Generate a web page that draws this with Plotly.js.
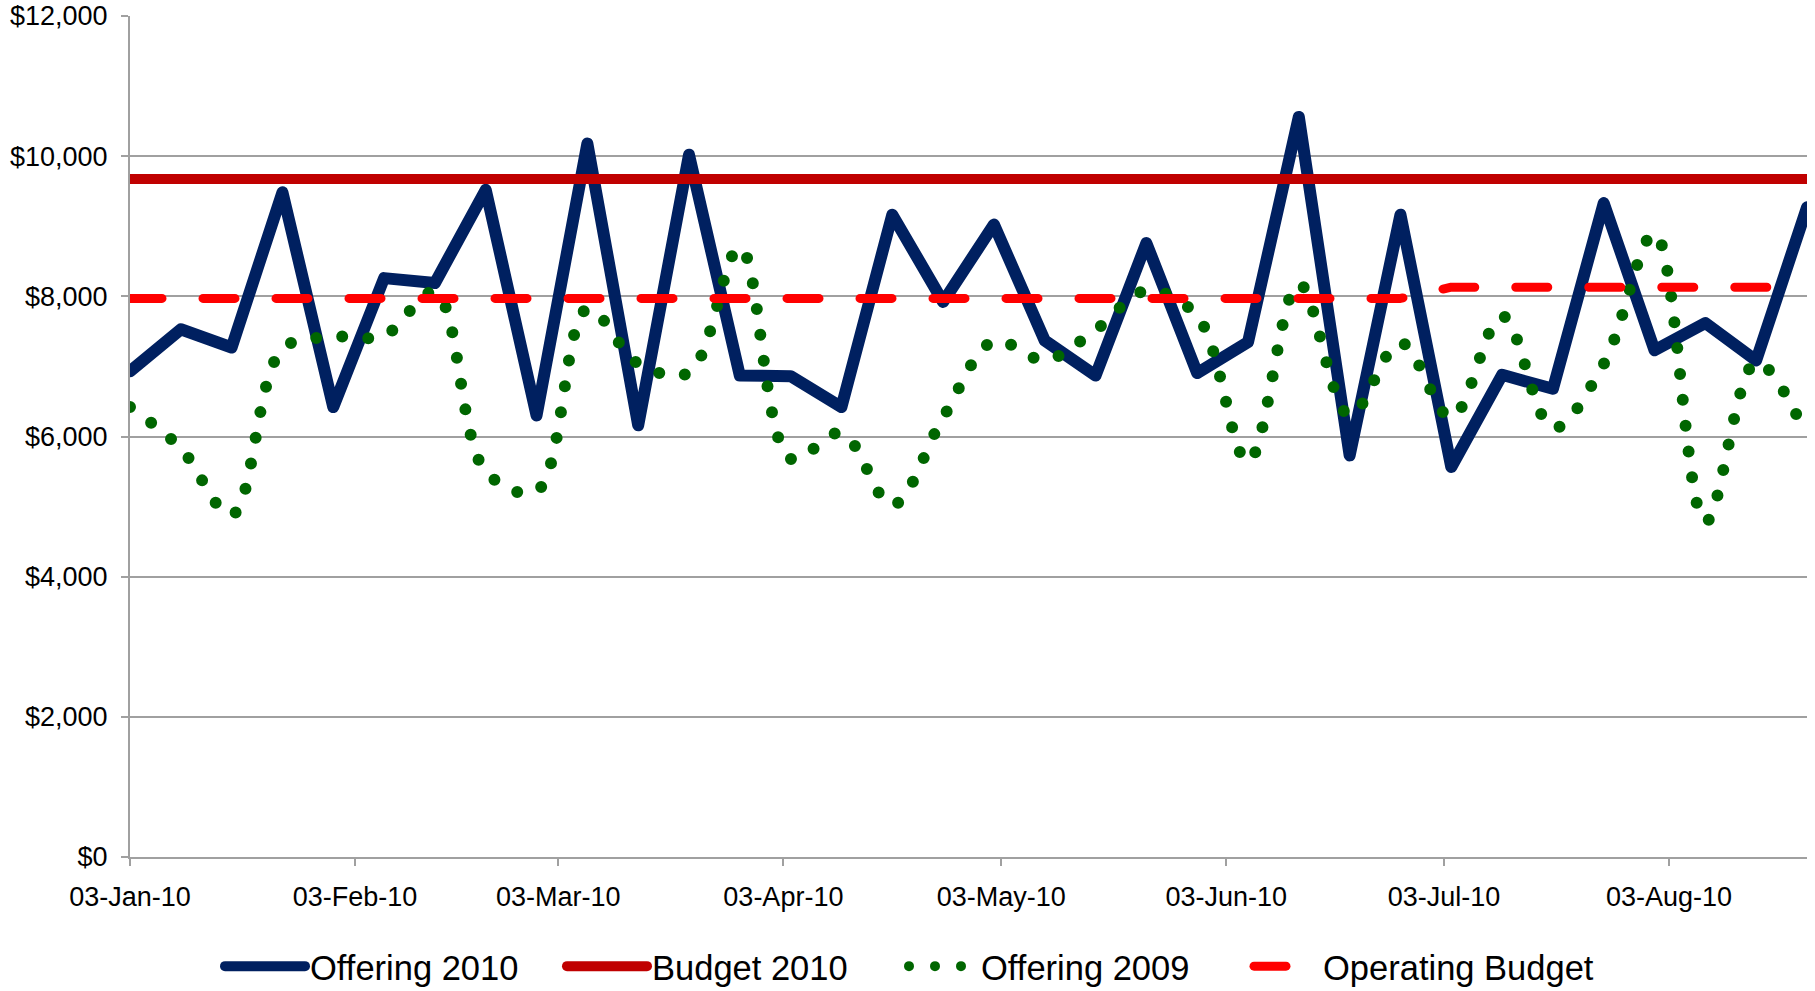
<!DOCTYPE html>
<html><head><meta charset="utf-8">
<script src="https://cdn.plot.ly/plotly-3.0.1.min.js"></script>
<style>html,body{margin:0;padding:0;background:#fff;}#chart{width:1815px;height:991px;}</style>
</head><body><div id="chart"></div>
<script>
const weeks = ['2010-01-03','2010-01-10','2010-01-17','2010-01-24','2010-01-31',
  '2010-02-07','2010-02-14','2010-02-21','2010-02-28',
  '2010-03-07','2010-03-14','2010-03-21','2010-03-28',
  '2010-04-04','2010-04-11','2010-04-18','2010-04-25',
  '2010-05-02','2010-05-09','2010-05-16','2010-05-23','2010-05-30',
  '2010-06-06','2010-06-13','2010-06-20','2010-06-27',
  '2010-07-04','2010-07-11','2010-07-18','2010-07-25',
  '2010-08-01','2010-08-08','2010-08-15','2010-08-22'];
const offering2010 = [6930,7530,7270,9485,6420,8260,8190,9520,6300,10180,6160,10020,6870,6860,6420,9165,7920,9025,7370,6870,8760,6905,7345,10560,5730,9165,5565,6880,6680,9330,7230,7620,7085,9270];
const budget2010 = [9675,9675,9675,9675,9675,9675,9675,9675,9675,9675,9675,9675,9675,9675,9675,9675,9675,9675,9675,9675,9675,9675,9675,9675,9675,9675,9675,9675,9675,9675,9675,9675,9675,9675];
const offering2009 = [6420,5830,4880,7250,7420,7440,8060,5500,5220,7820,7040,6910,8700,5680,6050,5020,6270,7360,7090,7520,8080,7720,5640,8180,6300,7340,6270,7720,6120,7035,8900,4780,7060,6000];
const operatingBudget = [7970,7970,7970,7970,7970,7970,7970,7970,7970,7970,7970,7970,7970,7970,7970,7970,7970,7970,7970,7970,7970,7970,7970,7970,7970,7970,8130,8130,8130,8130,8130,8130,8130,8130];
const seriesNames = ['Offering 2010','Budget 2010','Offering 2009','Operating Budget'];
const xTickVals = ['2010-01-03','2010-02-03','2010-03-03','2010-04-03','2010-05-03','2010-06-03','2010-07-03','2010-08-03'];
const xTickText = ['03-Jan-10','03-Feb-10','03-Mar-10','03-Apr-10','03-May-10','03-Jun-10','03-Jul-10','03-Aug-10'];
const yTickVals = [0,2000,4000,6000,8000,10000,12000];
const yTickText = ['$0','$2,000','$4,000','$6,000','$8,000','$10,000','$12,000'];

const FONT = 'Liberation Sans, Arial, sans-serif';
const AXIS_GREY = '#a0a0a0';

const traces = [
  {x: weeks, y: offering2010, name: seriesNames[0], mode: 'lines', legendwidth: 247,
   line: {color: '#002060', width: 12}},
  {x: weeks, y: budget2010, name: seriesNames[1], mode: 'lines', legendwidth: 234,
   line: {color: '#C00000', width: 10}},
  {x: weeks, y: offering2009, name: seriesNames[2], mode: 'lines', legendwidth: 247,
   line: {color: '#006600', width: 12, dash: '0px,26px', shape: 'spline', smoothing: 1}},
  {x: weeks, y: operatingBudget, name: seriesNames[3], mode: 'lines',
   line: {color: '#FF0000', width: 9, dash: '32px,41px'}}
];

const layout = {
  width: 1815, height: 991,
  margin: {l: 130, r: 8, t: 16, b: 134, pad: 0},
  paper_bgcolor: '#fff', plot_bgcolor: '#fff',
  font: {family: FONT, color: '#000'},
  showlegend: true,
  hovermode: false,
  xaxis: {
    type: 'date', range: ['2010-01-03', '2010-08-22'],
    tickmode: 'array', tickvals: xTickVals, ticktext: xTickText,
    ticks: 'outside', ticklen: 7, tickwidth: 2, tickcolor: AXIS_GREY,
    showline: true, linecolor: AXIS_GREY, linewidth: 2,
    showgrid: false, zeroline: false,
    tickfont: {family: FONT, size: 27, color: '#000'},
    ticklabelstandoff: 8
  },
  yaxis: {
    range: [0, 12000],
    tickmode: 'array', tickvals: yTickVals, ticktext: yTickText,
    ticks: 'outside', ticklen: 7, tickwidth: 2, tickcolor: AXIS_GREY,
    showline: true, linecolor: AXIS_GREY, linewidth: 2,
    showgrid: true, gridcolor: AXIS_GREY, gridwidth: 2,
    zeroline: false,
    tickfont: {family: FONT, size: 27, color: '#000'},
    ticklabelstandoff: 8
  },
  legend: {
    orientation: 'h', xref: 'container', yref: 'container',
    x: 220 / 1815, xanchor: 'left', y: 0.025, yanchor: 'middle',
    font: {family: FONT, size: 34.5, color: '#000'},
    itemwidth: 80, traceorder: 'normal', bgcolor: 'rgba(0,0,0,0)'
  }
};

// legend symbol dash phase (style only), per legend entry
const legendDashOffset = {'Offering 2009': 13, 'Operating Budget': 57};

function styleLines() {
  document.querySelectorAll('#chart .scatterlayer .js-line, #chart .legend .js-line').forEach(function (p) {
    p.style.strokeLinecap = 'round';
    p.style.strokeLinejoin = 'round';
  });
  document.querySelectorAll('#chart .legend .traces').forEach(function (g) {
    const t = g.querySelector('.legendtext');
    const p = g.querySelector('.js-line');
    if (t && p && legendDashOffset[t.textContent] !== undefined) {
      p.style.strokeDashoffset = legendDashOffset[t.textContent] + 'px';
    }
  });
}

const gd = document.getElementById('chart');
Plotly.newPlot(gd, traces, layout, {displayModeBar: false, staticPlot: true}).then(function () {
  styleLines();
  gd.on('plotly_afterplot', styleLines);
});
</script>
</body></html>
